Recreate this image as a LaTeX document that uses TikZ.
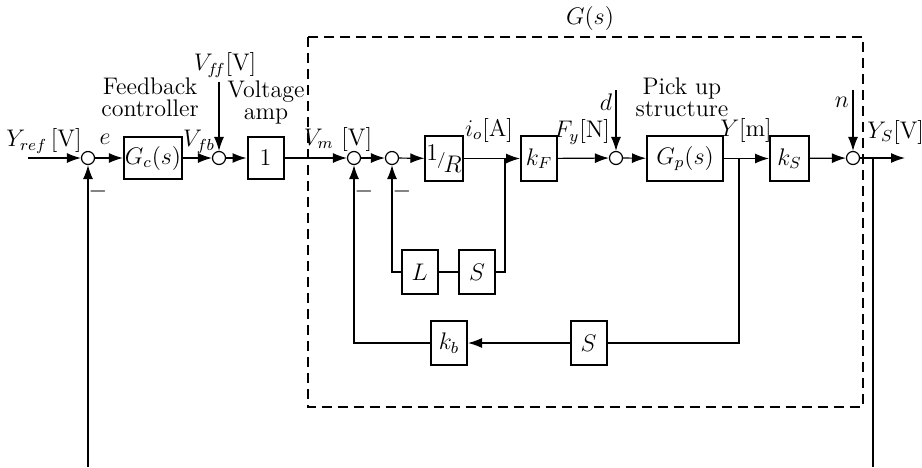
\documentclass[tikz,border=0pt]{standalone}
\usepackage{amsmath}
\usetikzlibrary{positioning,arrows.meta}
\tikzset{
  block/.style={draw, line width=1pt, minimum height=21pt, minimum width=18pt, inner sep=0.5pt, align=center},
  sumpt/.style={draw, circle, line width=0.6pt, minimum size=6.5pt, inner sep=0pt},
  sig/.style={-{Latex[length=7pt,width=5pt]}, line width=0.6pt},
  wire/.style={line width=0.6pt},
  lbl/.style={inner sep=1pt, align=center},
}

\begin{document}
\begin{tikzpicture}[x=0.5pt, y=-0.5pt, font=\fontsize{12pt}{11pt}\selectfont]
    \useasboundingbox (0,0) rectangle (922,467);
    % summing points
    \node[sumpt] (s1) at (88,158) {};
    \node[sumpt] (s2) at (219,158) {};
    \node[sumpt] (s3) at (354,158) {};
    \node[sumpt] (s4) at (392,158) {};
    \node[sumpt] (s5) at (616,158) {};
    \node[sumpt] (s6) at (853,158) {};
    % blocks
    \node[block, minimum width=27pt] (gc) at (153,158) {$G_c(s)$};
    \node[block] (amp) at (265.5,158) {$1$};
    \node[block, minimum height=22.5pt] (rinv) at (444,158.5) {\raisebox{3pt}{$1$}\hspace{-0.5pt}\raisebox{1pt}{$\scriptstyle/$}\hspace{-1pt}\raisebox{-3pt}{$R$}};
    \node[block, minimum height=22.5pt] (kf) at (539,158.5) {$k_F$};
    \node[block, minimum height=22.5pt, minimum width=38pt] (gp) at (685,158.5) {$G_p(s)$};
    \node[block, minimum height=22.5pt, minimum width=19.5pt] (ks) at (789.5,158.5) {$k_S$};
    \node[block, minimum height=22pt] (lind) at (419.5,272) {$L$};
    \node[block, minimum height=22pt] (sind) at (477,272) {$S$};
    \node[block, minimum height=22pt] (kb) at (449,343) {$k_b$};
    \node[block, minimum height=22pt] (sb) at (588.5,343) {$S$};
    % free ends and branch points
    \coordinate (yin) at (28,158);
    \coordinate (fbin) at (88,467);
    \coordinate (vfftop) at (219,82);
    \coordinate (dtop) at (616,90);
    \coordinate (ntop) at (853,90);
    \coordinate (jio) at (505,158);
    \coordinate (jy) at (739,158);
    \coordinate (jout) at (873,158);
    \coordinate (fbout) at (873,467);
    \coordinate (yout) at (905,158);
    % G(s) boundary
    \draw[dashed, dash pattern=on 5pt off 3pt, line width=0.6pt] (308,37) rectangle (863,407);
    \node[lbl] (gs) at (590,18) {$G(s)$};
    % forward path
    \draw[sig] (yin) -- (s1);
    \draw[sig] (s1) -- (gc);
    \draw[sig] (gc) -- (s2);
    \draw[sig] (vfftop) -- (s2);
    \draw[sig] (s2) -- (amp);
    \draw[sig] (amp) -- (s3);
    \draw[sig] (s3) -- (s4);
    \draw[sig] (s4) -- (rinv);
    \draw[sig] (rinv) -- (kf);
    \draw[sig] (kf) -- (s5);
    \draw[sig] (dtop) -- (s5);
    \draw[sig] (s5) -- (gp);
    \draw[sig] (gp) -- (ks);
    \draw[sig] (ks) -- (s6);
    \draw[sig] (ntop) -- (s6);
    \draw[sig] (s6) -- (yout);
    % inner loop
    \draw[wire] (jio) |- (sind.east);
    \draw[wire] (sind) -- (lind);
    \draw[sig] (lind.west) -| (s4);
    % back emf loop
    \draw[wire] (jy) |- (sb.east);
    \draw[sig] (sb) -- (kb);
    \draw[sig] (kb.west) -| (s3);
    % outer loop
    \draw[wire] (jout) -- (fbout);
    \draw[sig] (fbin) -- (s1);
    % labels
    \node[lbl] (lyref) at (44,141) {$Y_{ref}$\,[V]};
    \node[lbl] (le) at (105,139) {$e$};
    \node[lbl] (lfc) at (150,97) {Feedback\\controller};
    \node[lbl] (lvfb) at (199,142) {$V_{fb}$};
    \node[lbl] (lvff) at (225,65) {$V_{f\!f}$[V]};
    \node[lbl] (lamp) at (266,102) {Voltage\\amp};
    \node[lbl] (lvm) at (338,139) {$V_m$ [V]};
    \node[lbl] (lio) at (489,130) {$i_o$[A]};
    \node[lbl] (lfy) at (582,132) {$F_y$[N]};
    \node[lbl] (ld) at (606,102) {$d$};
    \node[lbl] (lpu) at (682,97) {Pick up\\structure};
    \node[lbl] (lym) at (746,130) {$Y$[m]};
    \node[lbl] (ln) at (842,102) {$n$};
    \node[lbl, anchor=west] (lys) at (865,132) {$Y_S$[V]};
    \node[lbl] (m1) at (98,191) {$-$};
    \node[lbl] (m3) at (364,191) {$-$};
    \node[lbl] (m4) at (402,191) {$-$};
\end{tikzpicture}
\end{document}
